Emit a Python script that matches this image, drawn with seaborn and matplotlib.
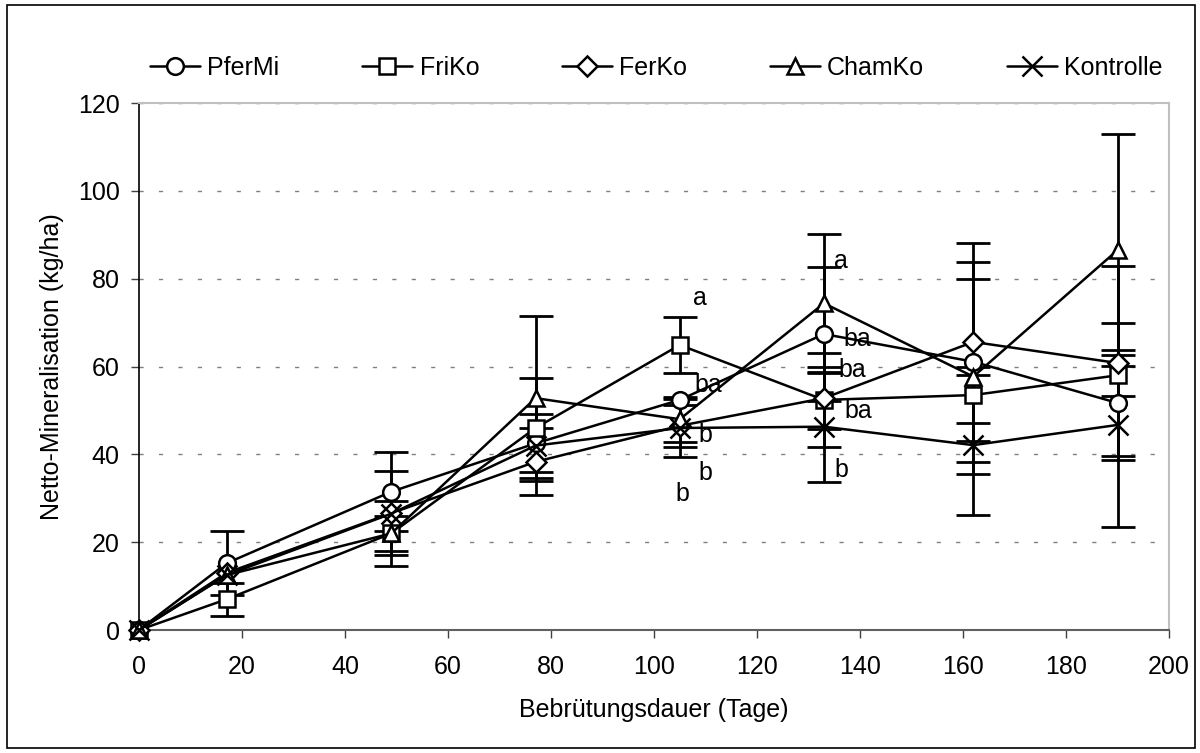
import numpy as np
import pandas as pd
import matplotlib
matplotlib.use("Agg")
import matplotlib.pyplot as plt
import seaborn as sns
from matplotlib.patches import Rectangle

# Data
days = [0, 17, 49, 77, 105, 133, 162, 190]

pfermi = [0, 15.2, 31.5, 42.5, 52.4, 67.4, 61.1, 51.7]
pfermi_err = [0, 7.3, 9.0, 6.6, 0, 15.3, 22.8, 12.0]

friko = [0, 7.0, 22.0, 46.0, 64.9, 52.4, 53.5, 58.0]
friko_err = [0, 3.8, 4.0, 11.3, 6.4, 10.7, 6.4, 4.6]

ferko = [0, 13.0, 26.6, 38.3, 46.5, 52.8, 65.6, 60.8]
ferko_err = [0, 0, 9.5, 7.6, 4.8, 7.0, 22.6, 22.0]

chamko = [0, 12.5, 22.0, 52.8, 48.0, 74.4, 57.7, 86.5]
chamko_err = [0, 0, 7.4, 18.8, 5.1, 15.8, 22.2, 26.4]

kontrolle = [0, 12.5, 26.5, 42.0, 46.0, 46.3, 42.1, 46.7]
kontrolle_err = [0, 0, 0, 0, 6.5, 12.5, 16.0, 23.2]

series_names = ["PferMi", "FriKo", "FerKo", "ChamKo", "Kontrolle"]
series_values = [pfermi, friko, ferko, chamko, kontrolle]
series_errors = [pfermi_err, friko_err, ferko_err, chamko_err, kontrolle_err]
series_markers = ["o", "s", "D", "^", "x"]

# significance letters (text, day, value)
letters = ["a", "ba", "b", "b", "b", "a", "ba", "ba", "ba", "b"]
letter_x = [108.9, 110.5, 109.9, 109.9, 105.6, 136.3, 139.4, 138.6, 139.6, 136.3]
letter_y = [75.6, 55.8, 44.4, 35.7, 31.0, 84.0, 66.3, 59.2, 49.8, 36.5]

sns.set_style("white")
plt.rcParams["font.family"] = ["Liberation Sans", "DejaVu Sans"]

fig = plt.figure(figsize=(12, 7.53), dpi=100)
ax = fig.add_axes([0.1158, 0.1633, 0.8584, 0.6999])

# outer frame of the whole chart
fig.patches.append(Rectangle((0.006, 0.006), 0.99, 0.988, transform=fig.transFigure,
                             fill=False, edgecolor="black", linewidth=1.2))

marker_sizes = {"o": 12, "s": 12, "D": 10, "^": 12, "x": 14}

for name, vals, errs, mk in zip(series_names, series_values, series_errors, series_markers):
    df = pd.DataFrame({"day": days, "value": vals})
    # only draw bars where an error is visible in the chart
    idx = [i for i, e in enumerate(errs) if e > 0]
    ax.errorbar([days[i] for i in idx], [vals[i] for i in idx],
                yerr=[errs[i] for i in idx], fmt="none", ecolor="black",
                elinewidth=2, capsize=12, capthick=2, zorder=2)
    sns.lineplot(data=df, x="day", y="value", ax=ax, color="black", linewidth=1.8,
                 marker=mk, markersize=marker_sizes[mk], markerfacecolor="white",
                 markeredgecolor="black", markeredgewidth=1.8, label=name, zorder=3,
                 clip_on=False)

for t, lx, ly in zip(letters, letter_x, letter_y):
    ax.text(lx, ly, t, ha="center", va="center", fontsize=18, color="black", zorder=4)

ax.set_xlim(0, 200)
ax.set_ylim(0, 120)
ax.set_xticks(range(0, 201, 20))
ax.set_yticks(range(0, 121, 20))
ax.yaxis.grid(True, color="#808080", linestyle=(0, (3, 11)), linewidth=1)
ax.xaxis.grid(False)
ax.set_axisbelow(True)

ax.spines["left"].set_color("black")
ax.spines["left"].set_linewidth(1.2)
ax.spines["bottom"].set_color("#606060")
ax.spines["bottom"].set_linewidth(1.5)
for s in ["top", "right"]:
    ax.spines[s].set_color("#c0c0c0")
    ax.spines[s].set_linewidth(1.5)

ax.tick_params(axis="both", direction="out", length=6, width=1, labelsize=18,
               color="#404040", labelcolor="black", left=True, bottom=True)
ax.tick_params(axis="x", pad=12)
ax.tick_params(axis="y", pad=8)

ax.set_xlabel("Bebrütungsdauer (Tage)", fontsize=18, labelpad=14, color="black")
ax.set_ylabel("Netto-Mineralisation (kg/ha)", fontsize=18, labelpad=10, color="black")

ax.get_legend().remove()
handles, labels = ax.get_legend_handles_labels()
fig.legend(handles, labels, loc="center", bbox_to_anchor=(0.547, 0.91), ncol=5,
           frameon=False, fontsize=18, handlelength=2.0, handletextpad=0.3,
           columnspacing=3.3, labelcolor="black")

fig.savefig("out.png", dpi=100)
